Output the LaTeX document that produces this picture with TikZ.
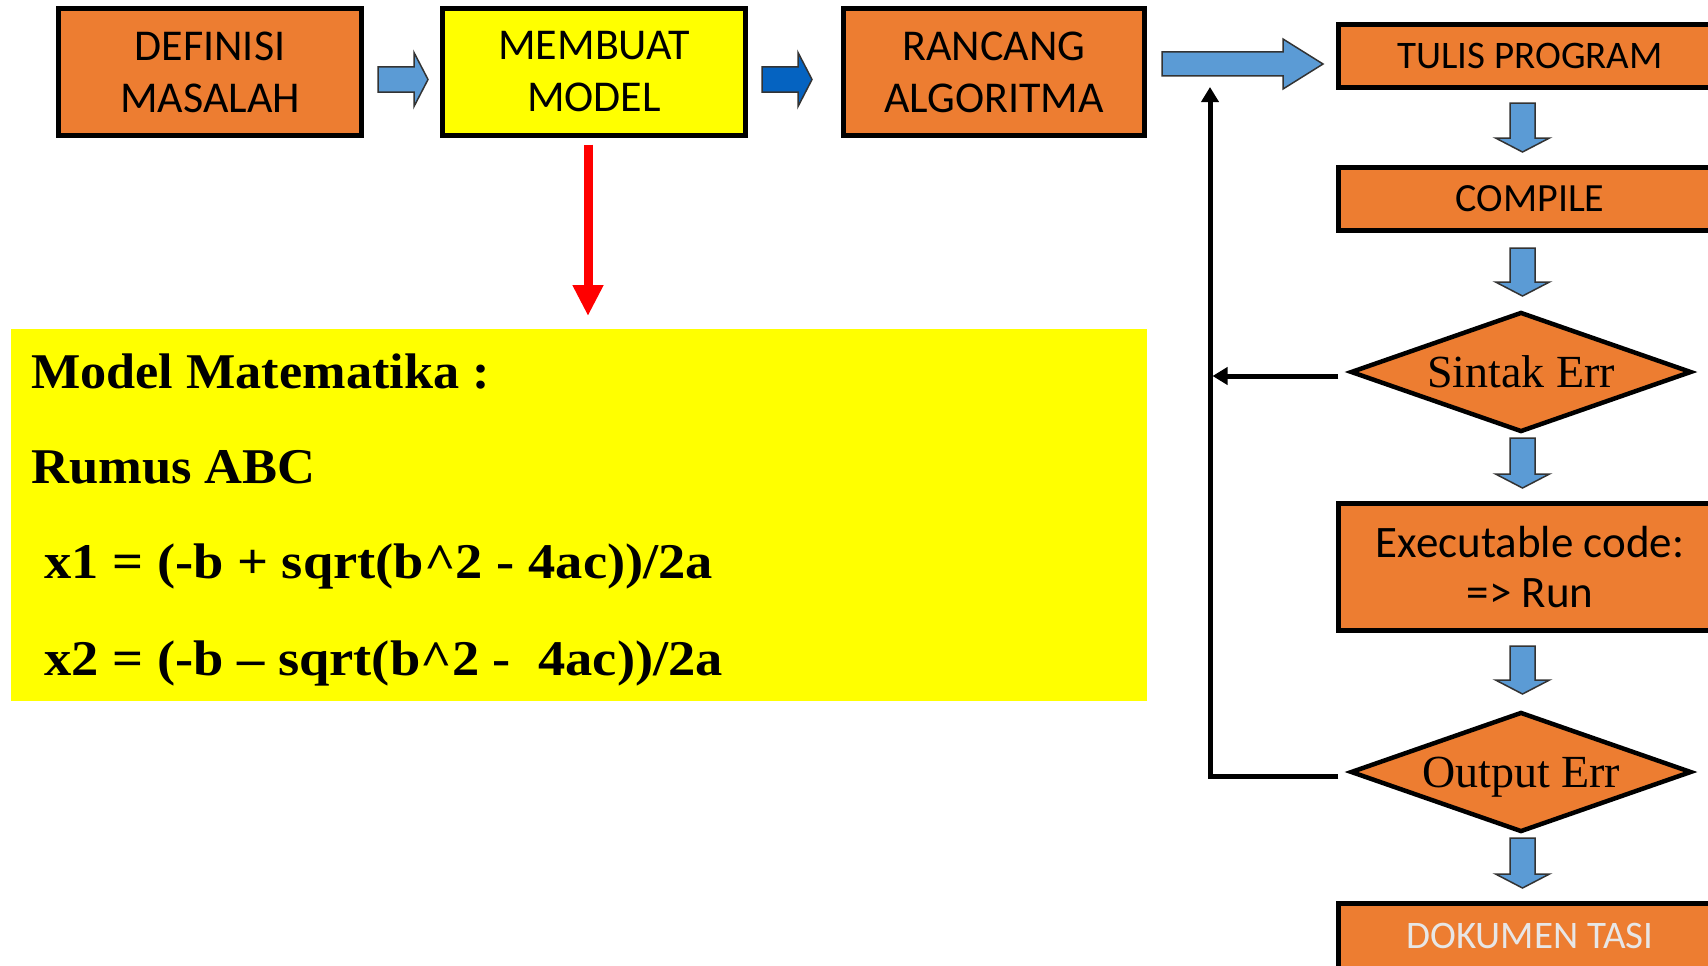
\documentclass[tikz,border=0pt]{standalone}
\usepackage{fontspec}
\usepackage{graphicx}
\setmainfont{Liberation Serif}
\newfontfamily\carl{Carlito}
\usetikzlibrary{shapes.geometric,arrows.meta}
\definecolor{org}{HTML}{ED7D31}
\definecolor{lblue}{HTML}{5B9BD5}
\definecolor{dblue}{HTML}{0563C1}
\definecolor{ylw}{HTML}{FFFF00}
\definecolor{lgray}{HTML}{E7E6E6}
\newcommand{\rblk}[7]{\draw[blk,#7] (#1,#4-#5) -- (#3,#4-#5) -- (#3,#4-#6) -- (#2,#4) -- (#3,#4+#6) -- (#3,#4+#5) -- (#1,#4+#5) -- cycle;}
\newcommand{\dblk}[4]{\draw[blk,fill=lblue] (#1-12.5,#2) -- (#1+12.5,#2) -- (#1+12.5,#4) -- (#1+27,#4) -- (#1,#3) -- (#1-27,#4) -- (#1-12.5,#4) -- cycle;}
\begin{document}
\begin{tikzpicture}[x=1pt,y=-1pt,
  box/.style={draw=black,line width=5pt,fill=org,inner sep=0pt,align=center,font=\carl\fontsize{44}{52}\selectfont},
  rbox/.style={box,minimum width=383pt,font=\carl\fontsize{39}{45}\selectfont},
  dia/.style={diamond,draw=black,line width=4.5pt,fill=org,inner sep=0pt,aspect=2.84,minimum width=341pt,minimum height=120pt,text depth=0pt,font=\fontsize{46}{50}\selectfont},
  blk/.style={draw=black!80,line width=1.5pt,line join=miter},
  fb/.style={draw=black,line width=5pt,-{Triangle[length=15pt,width=17pt]}},
  mt/.style={anchor=base west,inner sep=0pt,font=\bfseries\fontsize{50}{60}\selectfont}]
\useasboundingbox (0,0) rectangle (1708,966);
\clip (0,0) rectangle (1708,966);
\fill[white] (0,0) rectangle (1708,966);

% top row
\node[box,minimum width=303pt,minimum height=127pt] (def) at (210,72) {DEFINISI\\MASALAH};
\node[box,fill=ylw,minimum width=303pt,minimum height=127pt] (mem) at (594,72) {MEMBUAT\\MODEL};
\node[box,minimum width=301pt,minimum height=127pt] (ran) at (994,72) {RANCANG\\ALGORITMA};

\rblk{378}{428}{414}{79.5}{12.5}{27}{fill=lblue}
\rblk{762}{812}{798}{79.5}{12.5}{27}{fill=dblue}
\rblk{1162}{1323}{1283}{64}{12}{25}{fill=lblue}

% right column
\node[rbox,minimum height=63pt] (tul) at (1530,56) {TULIS PROGRAM};
\node[rbox,minimum height=63pt,font=\carl\fontsize{40}{45}\selectfont] (com) at (1530,199) {COMPILE};
\node[dia] (sd) at (1521,372) {Sintak Err};
\node[rbox,minimum height=127pt,font=\carl\fontsize{45}{50}\selectfont] (exe) at (1530,567) {Executable code:\\=> Run};
\node[dia] (od) at (1521,772) {Output Err};
\node[rbox,minimum height=65pt,text=lgray] (dok) at (1530,936) {DOKUMEN TASI};

\dblk{1522.5}{103}{152}{138}
\dblk{1522.5}{248}{296}{282}
\dblk{1522.5}{438}{488}{474}
\dblk{1522.5}{646}{694}{680}
\dblk{1522.5}{838}{888}{874}

% feedback
\coordinate (fbtop) at (1210,87);
\coordinate (fbmid) at (1212.5,376);
\draw[fb] ([shift={(-10,4)}]od.west) -| (fbtop);
\draw[fb] ([shift={(-10,4)}]sd.west) -- (fbmid);

% model
\coordinate (rt) at (588,316);
\draw[red,line width=9pt,-{Triangle[length=31pt,width=29pt]}] ([shift={(-6,6.5)}]mem.south) -- (rt);
\fill[ylw] (11,329) rectangle (1147,701);
\node[mt] (m1) at (31,388) {\scalebox{1.045}[1]{Model Matematika :}};
\node[mt] (m2) at (31,483) {\scalebox{1.05}[1]{Rumus ABC}};
\node[mt] (m3) at (44,578) {\scalebox{1.09}[1]{x1 = (-b + sqrt(b\textasciicircum 2 - 4ac))/2a}};
\node[mt] (m4) at (44,675) {\scalebox{1.09}[1]{x2 = (-b -- sqrt(b\textasciicircum 2 -\ \ 4ac))/2a}};
\end{tikzpicture}
\end{document}
